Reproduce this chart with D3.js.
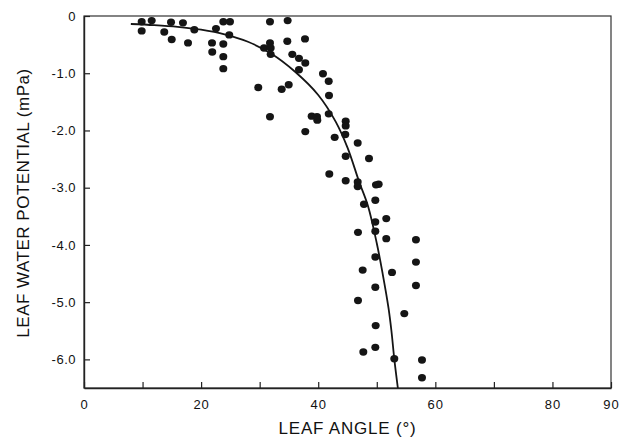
<!DOCTYPE html>
<html>
<head>
<meta charset="utf-8">
<script src="https://cdn.jsdelivr.net/npm/d3@7"></script>
<style>
  html, body { margin: 0; padding: 0; background: #fff; }
  svg { display: block; }
  text { font-family: "Liberation Sans", Arial, sans-serif; fill: #111; }
</style>
</head>
<body>
<svg id="chart" width="626" height="440"></svg>
<script>
// Observed points: leaf angle (degrees) and leaf water potential (mPa)
const leafAngle = [
  9.85, 9.85, 11.56, 13.71, 14.86, 14.98, 16.9, 17.76, 18.84, 21.86,
  21.9, 22.54, 23.79, 24.93, 24.81, 23.79, 23.79, 23.79, 29.76, 31.76,
  30.74, 31.76, 31.88, 31.88, 31.76, 34.78, 34.72, 33.76, 34.96, 35.57,
  36.71, 37.74, 37.79, 36.71, 40.81, 41.79, 41.84, 38.88, 39.79, 39.84,
  37.79, 41.79, 44.69, 44.69, 42.81, 44.62, 44.69, 41.89, 44.69, 46.74,
  46.74, 46.74, 48.67, 49.86, 50.32, 47.81, 49.75, 51.62, 49.75, 46.79,
  49.75, 51.62, 56.69, 49.75, 56.69, 47.59, 52.6, 49.75, 56.69, 46.79,
  54.7, 49.81, 47.7, 49.75, 52.99, 57.72, 57.72
];
const leafPotential = [
  -0.10, -0.26, -0.08, -0.28, -0.11, -0.41, -0.12, -0.47, -0.24, -0.47,
  -0.63, -0.22, -0.10, -0.10, -0.33, -0.49, -0.71, -0.92, -1.25, -0.10,
  -0.56, -0.47, -0.56, -0.67, -1.76, -0.08, -0.44, -1.28, -1.20, -0.67,
  -0.74, -0.40, -0.82, -0.94, -1.01, -1.14, -1.39, -1.75, -1.76, -1.82,
  -2.02, -1.71, -1.84, -1.92, -2.12, -2.07, -2.45, -2.76, -2.88, -2.22,
  -2.90, -2.98, -2.49, -2.95, -2.94, -3.29, -3.22, -3.54, -3.60, -3.78,
  -3.76, -3.89, -3.91, -4.21, -4.30, -4.44, -4.48, -4.74, -4.71, -4.97,
  -5.20, -5.41, -5.87, -5.79, -5.99, -6.01, -6.32
];

// Fitted curve
const curveAngle =     [8, 12, 16, 20, 24, 28, 32, 36, 40, 43, 45, 47, 48.5, 50, 51, 52, 52.5, 53, 53.6];
const curvePotential = [-0.14, -0.16, -0.19, -0.24, -0.32, -0.45, -0.66, -0.97, -1.38, -1.85, -2.3, -2.9, -3.32, -3.97, -4.5, -5.1, -5.5, -6.0, -6.5];

// Axis ticks
const xTicks = [0, 10, 20, 30, 40, 50, 60, 70, 80, 90];
const xTickLabels = [0, 20, 40, 60, 80, 90];
const yTicks = [0, -1, -2, -3, -4, -5, -6];

const xTitle = "LEAF ANGLE (°)";
const yTitle = "LEAF WATER POTENTIAL (mPa)";

const svg = d3.select("#chart");
const L = 84, R = 611, T = 16, B = 388;

const x = d3.scaleLinear().domain([0, 90]).range([L, R]);
const y = d3.scaleLinear().domain([0, -6.5]).range([T, B]);

const ink = "#151515";

// Frame
svg.append("rect")
  .attr("x", L).attr("y", T)
  .attr("width", R - L).attr("height", B - T)
  .attr("fill", "none").attr("stroke", "#333").attr("stroke-width", 1.2);

// X axis
const xAxis = d3.axisBottom(x)
  .tickValues(xTicks)
  .tickSizeInner(-6).tickSizeOuter(0)
  .tickPadding(12)
  .tickFormat(d => xTickLabels.includes(d) ? String(d) : "");
const gx = svg.append("g").attr("transform", `translate(0,${B})`).call(xAxis);
gx.select(".domain").attr("stroke", "#222").attr("stroke-width", 1.4);
gx.selectAll(".tick line").attr("stroke", "#222").attr("stroke-width", 1.2);
gx.selectAll(".tick text")
  .attr("font-size", 13).attr("letter-spacing", "1px")
  .attr("font-family", "Liberation Sans, Arial, sans-serif").attr("fill", "#111");

// Y axis
const yAxis = d3.axisLeft(y)
  .tickValues(yTicks)
  .tickSizeInner(-6).tickSizeOuter(0)
  .tickPadding(8)
  .tickFormat(d => d === 0 ? "0" : d.toFixed(1));
const gy = svg.append("g").attr("transform", `translate(${L},0)`).call(yAxis);
gy.select(".domain").attr("stroke", "#222").attr("stroke-width", 1.4);
gy.selectAll(".tick line").attr("stroke", "#222").attr("stroke-width", 1.2);
gy.selectAll(".tick text")
  .attr("font-size", 13).attr("letter-spacing", "0.5px")
  .attr("font-family", "Liberation Sans, Arial, sans-serif").attr("fill", "#111");

// Titles
svg.append("text")
  .attr("x", (L + R) / 2).attr("y", 434)
  .attr("text-anchor", "middle")
  .attr("font-size", 17).attr("letter-spacing", "0.8px")
  .text(xTitle);

svg.append("text")
  .attr("transform", `translate(29,203) rotate(-90)`)
  .attr("text-anchor", "middle")
  .attr("font-size", 17).attr("letter-spacing", "0.5px")
  .text(yTitle);

// Fitted curve
const curveData = curveAngle.map((a, i) => [a, curvePotential[i]]);
const line = d3.line()
  .x(d => x(d[0])).y(d => y(d[1]))
  .curve(d3.curveCatmullRom.alpha(0.5));
svg.append("path")
  .datum(curveData)
  .attr("d", line)
  .attr("fill", "none").attr("stroke", ink).attr("stroke-width", 1.8);

// Points
const pts = leafAngle.map((a, i) => [a, leafPotential[i]]);
svg.append("g").selectAll("ellipse")
  .data(pts).join("ellipse")
  .attr("cx", d => x(d[0])).attr("cy", d => y(d[1]))
  .attr("rx", 4.0).attr("ry", 3.7)
  .attr("fill", ink);
</script>
</body>
</html>
